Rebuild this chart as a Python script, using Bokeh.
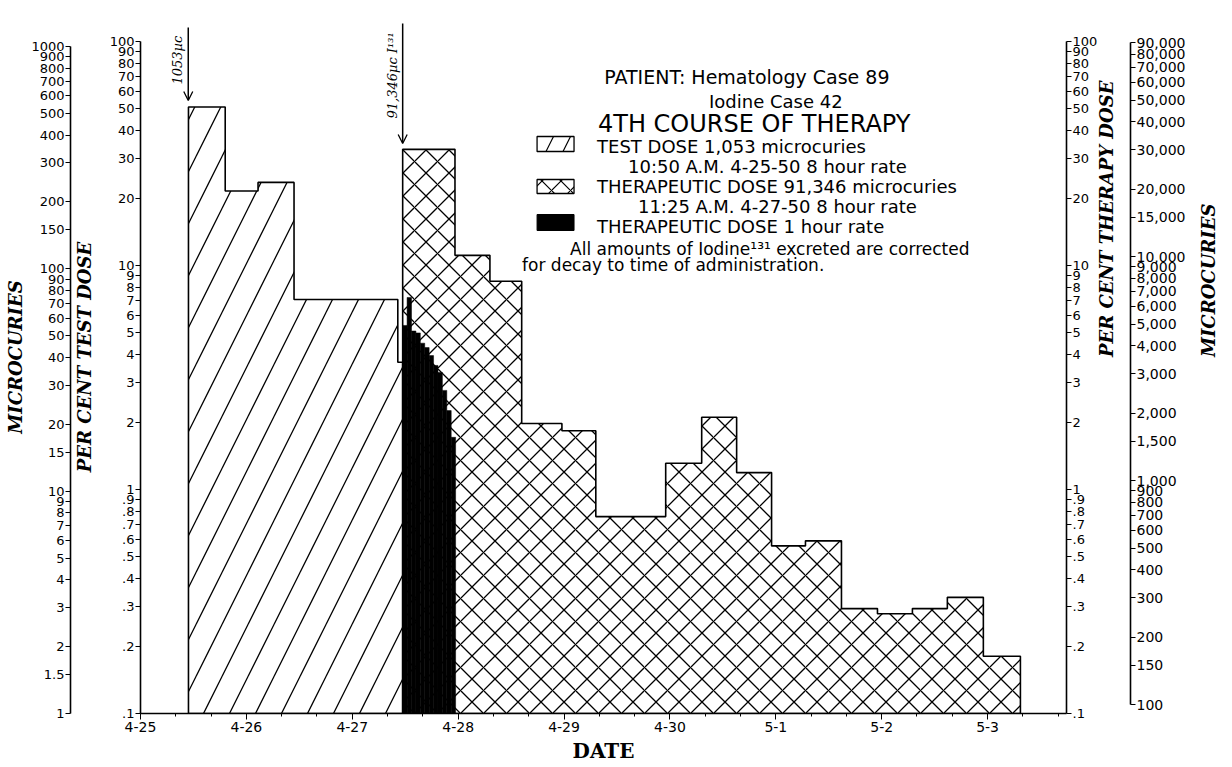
import math
from bokeh.plotting import figure
from bokeh.models import (Range1d, LogScale, LogAxis, FixedTicker, Label, Arrow, OpenHead)
from bokeh.embed import file_html
from bokeh.resources import INLINE

# ---------------- data ----------------
# x = days after 4-25 00:00
day_ticks = [0, 1, 2, 3, 4, 5, 6, 7, 8]
day_labels = ["4-25", "4-26", "4-27", "4-28", "4-29", "4-30", "5-1", "5-2", "5-3"]

dose_days = [0.451, 2.476]
dose_texts = ["1053µc", "91,346µc I¹³¹"]

# test dose, 8 hour rate, % of test dose
test_edges = [0.453, 0.80, 1.11, 1.45, 2.43, 2.476]
test_pct = [51.0, 21.5, 23.5, 7.05, 3.7]

# therapeutic dose, 8 hour rate, % of therapy dose
ther_edges = [2.476, 2.97, 3.30, 3.60, 3.98, 4.30, 4.96, 5.30, 5.63, 5.96,
              6.28, 6.62, 6.96, 7.29, 7.62, 7.96, 8.31]
ther_pct = [33.0, 11.1, 8.5, 1.97, 1.83, 0.757, 1.31, 2.10, 1.19, 0.56,
            0.59, 0.294, 0.279, 0.294, 0.33, 0.18]

# therapeutic dose, 1 hour rate (first 12 hours)
hour_start = 2.476
hour_pct = [5.4, 7.2, 5.1, 5.0, 4.5, 4.3, 3.96, 3.58, 3.33, 2.77, 2.25, 1.71]

pct_ticks = [0.1, 0.2, 0.3, 0.4, 0.5, 0.6, 0.7, 0.8, 0.9,
             1, 2, 3, 4, 5, 6, 7, 8, 9, 10, 20, 30, 40, 50, 60, 70, 80, 90, 100]
pct_labels = [".1", ".2", ".3", ".4", ".5", ".6", ".7", ".8", ".9",
              "1", "2", "3", "4", "5", "6", "7", "8", "9", "10",
              "20", "30", "40", "50", "60", "70", "80", "90", "100"]

uct_ticks = [1, 1.5, 2, 3, 4, 5, 6, 7, 8, 9, 10, 15, 20, 30, 40, 50, 60, 70, 80, 90,
             100, 150, 200, 300, 400, 500, 600, 700, 800, 900, 1000]
uct_labels = ["1", "1.5", "2", "3", "4", "5", "6", "7", "8", "9", "10", "15", "20", "30",
              "40", "50", "60", "70", "80", "90", "100", "150", "200", "300", "400",
              "500", "600", "700", "800", "900", "1000"]

ucr_ticks = [100, 150, 200, 300, 400, 500, 600, 700, 800, 900, 1000, 1500, 2000, 3000,
             4000, 5000, 6000, 7000, 8000, 9000, 10000, 15000, 20000, 30000, 40000,
             50000, 60000, 70000, 80000, 90000]
ucr_labels = ["100", "150", "200", "300", "400", "500", "600", "700", "800", "900",
              "1,000", "1,500", "2,000", "3,000", "4,000", "5,000", "6,000", "7,000",
              "8,000", "9,000", "10,000", "15,000", "20,000", "30,000", "40,000",
              "50,000", "60,000", "70,000", "80,000", "90,000"]

test_dose_uc = 1053
ther_dose_uc = 91346

# ---------------- layout constants ----------------
SANS = "DejaVu Sans"
SERIF = "DejaVu Serif"
W, H = 1232, 765
FL, FR, FB = 140, 1067, 713          # frame left / right / bottom (px)
PX_DAY = 106.0                        # px per day
PX_DEC = 224.0                        # px per decade (per cent axes)
X_END = (FR - FL) / PX_DAY
Y_TOP = 0.1 * 10 ** (FB / PX_DEC)     # frame reaches the top of the canvas
UCT_TOP = 10 ** (FB / 222.3)          # hand-drawn microcurie scale (1 at bottom)

p = figure(width=W, height=H, x_range=Range1d(0, X_END), y_range=Range1d(0.1, Y_TOP),
           y_axis_type="log", output_backend="svg", toolbar_location=None,
           min_border_left=FL, min_border_right=W - FR, min_border_top=0, min_border_bottom=4)
p.outline_line_color = None
p.xgrid.visible = False
p.ygrid.visible = False

p.extra_y_ranges = {"uct": Range1d(1, UCT_TOP),
                    "ucr": Range1d(ther_dose_uc / 1000, ther_dose_uc / 100 * Y_TOP)}
p.extra_y_scales = {"uct": LogScale(), "ucr": LogScale()}


def style(ax, ticks, labels, label_text, label_standoff, fs="13px"):
    ax.ticker = FixedTicker(ticks=ticks, minor_ticks=[])
    ax.major_label_overrides = dict(zip(ticks, labels))
    ax.major_label_text_font = SANS
    ax.major_label_text_font_size = fs
    ax.major_label_text_color = "black"
    ax.major_label_standoff = 1
    ax.axis_line_color = "black"
    ax.axis_line_width = 1.6
    ax.major_tick_in = 0
    ax.major_tick_out = 5
    ax.major_tick_line_width = 1.2
    ax.minor_tick_line_color = None
    ax.axis_label = label_text
    ax.axis_label_text_font = SERIF
    ax.axis_label_text_font_style = "bold italic"
    ax.axis_label_text_font_size = "18px"
    ax.axis_label_text_color = "black"
    ax.axis_label_standoff = label_standoff


# left inner: per cent test dose
style(p.yaxis[0], pct_ticks, pct_labels, "PER CENT TEST DOSE", 12)
p.yaxis[0].bounds = (0.1, 100)
# left outer: microcuries (test dose)
ax_l2 = LogAxis(y_range_name="uct")
style(ax_l2, uct_ticks, uct_labels, "MICROCURIES", 2)
ax_l2.bounds = (1, 1000)
p.add_layout(ax_l2, "left")
# right inner: per cent therapy dose
ax_r1 = LogAxis()
style(ax_r1, pct_ticks, pct_labels, "PER CENT THERAPY DOSE", 6)
ax_r1.bounds = (0.1, 100)
ax_r1.axis_label_orientation = math.pi / 2
p.add_layout(ax_r1, "right")
# right outer: microcuries (therapy dose)
ax_r2 = LogAxis(y_range_name="ucr")
style(ax_r2, ucr_ticks, ucr_labels, "MICROCURIES", 20, fs="14px")
ax_r2.bounds = (100, 90000)
ax_r2.axis_label_orientation = math.pi / 2
p.add_layout(ax_r2, "right")

# bottom: date
xa = p.xaxis[0]
xa.ticker = FixedTicker(ticks=day_ticks, minor_ticks=[i / 3 for i in range(27)])
xa.major_label_overrides = dict(zip(day_ticks, day_labels))
xa.major_label_text_font = SANS
xa.major_label_text_font_size = "14px"
xa.major_label_text_color = "black"
xa.major_label_standoff = 2
xa.axis_line_color = "black"
xa.axis_line_width = 1.6
xa.major_tick_in = 0
xa.major_tick_out = 6
xa.minor_tick_in = 0
xa.minor_tick_out = 3
xa.axis_label = "DATE"
xa.axis_label_text_font = SERIF
xa.axis_label_text_font_style = "bold"
xa.axis_label_text_font_size = "20px"
xa.axis_label_text_color = "black"
xa.axis_label_standoff = 4


def step_poly(edges, vals, base=0.1):
    xs, ys = [edges[0]], [base]
    for i, v in enumerate(vals):
        xs += [edges[i], edges[i + 1]]
        ys += [v, v]
    xs.append(edges[-1])
    ys.append(base)
    return xs, ys


tx, ty = step_poly(test_edges, test_pct)
p.patch(tx, ty, fill_color="white", hatch_pattern="/", hatch_scale=52, hatch_weight=1.3,
        hatch_color="black", line_color="black", line_width=1.6)
hx, hy = step_poly(ther_edges, ther_pct)
p.patch(hx, hy, fill_color="white", hatch_pattern="x", hatch_scale=23, hatch_weight=1.3,
        hatch_color="black", line_color="black", line_width=1.6)
h_left = [hour_start + i / 24 for i in range(len(hour_pct))]
h_right = [hour_start + (i + 1) / 24 for i in range(len(hour_pct))]
p.quad(left=h_left, right=h_right, bottom=0.1, top=hour_pct, fill_color="black",
       line_color="black", line_width=0.5)


# ---------------- annotations ----------------
def xd(px):  # pixel -> day
    return (px - FL) / PX_DAY


def yd(py):  # pixel -> per cent
    return 0.1 * 10 ** ((FB - py) / PX_DEC)


arrow_top = [27, 23]
arrow_tip = [100, 143]
text_bottom = [84, 118]
for d, t, a0, a1, tb in zip(dose_days, dose_texts, arrow_top, arrow_tip, text_bottom):
    p.add_layout(Arrow(x_start=d, y_start=yd(a0), x_end=d, y_end=yd(a1), line_width=1.5,
                       end=OpenHead(size=9, line_width=1.3)))
    p.add_layout(Label(x=d, y=yd(tb), x_offset=-3, text=t, angle=math.pi / 2,
                       text_align="left", text_baseline="bottom", text_font=SERIF,
                       text_font_style="italic", text_font_size="13px", text_color="black"))

# legend swatches
p.quad(left=[xd(537)], right=[xd(574)], top=[yd(136)], bottom=[yd(151)], fill_color="white",
       hatch_pattern="/", hatch_scale=34, hatch_weight=1.2, hatch_color="black",
       line_color="black", line_width=1.3)
p.quad(left=[xd(537)], right=[xd(574)], top=[yd(179)], bottom=[yd(193)], fill_color="white",
       hatch_pattern="x", hatch_scale=19, hatch_weight=1.2, hatch_color="black",
       line_color="black", line_width=1.3)
p.quad(left=[xd(537)], right=[xd(574)], top=[yd(214)], bottom=[yd(230)], fill_color="black",
       line_color="black", line_width=1)

legend_lines = [
    ("PATIENT: Hematology Case 89", 747, 76, "center", "19px"),
    ("Iodine Case 42", 776, 101, "center", "18px"),
    ("4TH COURSE OF  THERAPY", 598, 123, "left", "24px"),
    ("TEST DOSE 1,053 microcuries", 597, 146, "left", "18px"),
    ("10:50 A.M. 4-25-50   8 hour rate", 628, 166, "left", "18px"),
    ("THERAPEUTIC DOSE 91,346 microcuries", 597, 186, "left", "18px"),
    ("11:25 A.M.  4-27-50   8 hour rate", 638, 206, "left", "18px"),
    ("THERAPEUTIC DOSE 1 hour rate", 597, 226, "left", "18px"),
    ("All amounts of Iodine¹³¹ excreted are corrected", 570, 248, "left", "17px"),
    ("for decay to time of administration.", 522, 264, "left", "17px"),
]
for txt, px, py, al, fs in legend_lines:
    p.add_layout(Label(x=xd(px), y=yd(py), text=txt, text_align=al, text_baseline="middle",
                       text_font=SANS, text_font_size=fs, text_color="black"))

open("out.html", "w").write(file_html(p, INLINE))
